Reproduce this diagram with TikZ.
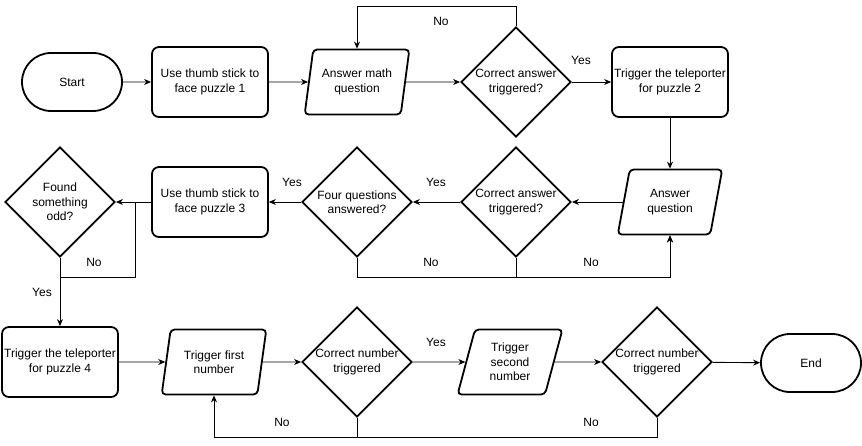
\documentclass[tikz,border=0pt]{standalone}
\usepackage{fontspec}
\setmainfont{Liberation Sans}
\usetikzlibrary{shapes.geometric,shapes.misc,arrows.meta}

\begin{document}
\begin{tikzpicture}[x=1pt, y=-1pt,
  every node/.style={font=\fontsize{12}{14.5}\selectfont, align=center, inner sep=0pt},
  term/.style={rounded rectangle, draw, line width=1.8pt, minimum width=100pt, minimum height=58pt},
  proc/.style={rectangle, rounded corners=7pt, draw, line width=1.8pt, minimum width=116pt, minimum height=70pt},
  io/.style={trapezium, trapezium left angle=75, trapezium right angle=105, trapezium stretches=true,
    rounded corners=4pt, draw, line width=1.8pt, minimum width=105pt, minimum height=65pt},
  dec/.style={diamond, aspect=1, draw, line width=1.8pt, minimum width=110pt, minimum height=110pt},
  arr/.style={-{Stealth[length=7pt,width=6pt]}, line width=0.9pt},
  link/.style={line width=0.9pt}]

%─────────────
% Page frame
%─────────────
\useasboundingbox (0,0) rectangle (862,446);

%─────────────
% Row 1: puzzle 1
%─────────────
\node[term] (start) at (72,82)  {Start};
\node[proc] (face1) at (210,82) {Use thumb stick to\\face puzzle 1};
\node[io]   (mathq) at (357,82) {Answer math\\question};
\node[dec]  (chk1)  at (516,82) {Correct answer\\triggered?};
\node[proc] (tele2) at (670,82) {Trigger the teleporter\\for puzzle 2};

%─────────────
% Row 2: puzzle 2 and 3
%─────────────
\node[io]   (ansq)  at (670,202) {Answer\\question};
\node[dec]  (chk2)  at (516,202) {Correct answer\\triggered?};
\node[dec]  (four)  at (357,202) {Four questions\\answered?};
\node[proc] (face3) at (210,202) {Use thumb stick to\\face puzzle 3};
\node[dec]  (odd)   at (60,202)  {Found\\something\\odd?};
\coordinate (j3) at (135,202);  % where the No line joins

%─────────────
% Row 3: puzzle 4
%─────────────
\node[proc] (tele4) at (60,362)  {Trigger the teleporter\\for puzzle 4};
\node[io]   (num1)  at (214,362) {Trigger first\\number};
\node[dec]  (chkn1) at (357,362) {Correct number\\triggered};
\node[io]   (num2)  at (510,362) {Trigger\\second\\number};
\node[dec]  (chkn2) at (657,362) {Correct number\\triggered};
\node[term] (stop)  at (811,363) {End};

%─────────────
% Connectors
%─────────────
\draw[arr] (start) -- (face1);
\draw[arr] (face1) -- (mathq);
\draw[arr] (mathq) -- (chk1);
\draw[arr] (chk1) -- (tele2);
\draw[arr] (chk1.north) -- ++(0,-20) -| (mathq.north);
\draw[arr] (tele2) -- (ansq);
\draw[arr] (ansq) -- (chk2);
\draw[arr] (chk2.south) -- ++(0,20) -| (ansq.south);
\draw[arr] (chk2) -- (four);
\draw[arr] (four.south) -- ++(0,20) -| (ansq.south);
\draw[arr] (four) -- (face3);
\draw[arr] (face3) -- (odd);
\draw[link] (odd.south) -- ++(0,20) -| (j3);
\draw[arr] (odd) -- (tele4);
\draw[arr] (tele4) -- (num1);
\draw[arr] (num1) -- (chkn1);
\draw[arr] (chkn1) -- (num2);
\draw[arr] (num2) -- (chkn2);
\draw[arr] (chkn2) -- (stop);
\draw[arr] (chkn2.south) -- ++(0,20) -| (num1.south);
\draw[link] (chkn1.south) -- ++(0,20);

%─────────────
% Labels
%─────────────
\node (no1)  at (441,21)  {No};
\node (yes1) at (581,60)  {Yes};
\node (yes2) at (436,182) {Yes};
\node (yes3) at (292,182) {Yes};
\node (no2)  at (431,262) {No};
\node (no3)  at (591,262) {No};
\node (no4)  at (94,262)  {No};
\node (yes4) at (42,292)  {Yes};
\node (yes5) at (436,342) {Yes};
\node (no5)  at (282,422) {No};
\node (no6)  at (591,422) {No};

\end{tikzpicture}
\end{document}
